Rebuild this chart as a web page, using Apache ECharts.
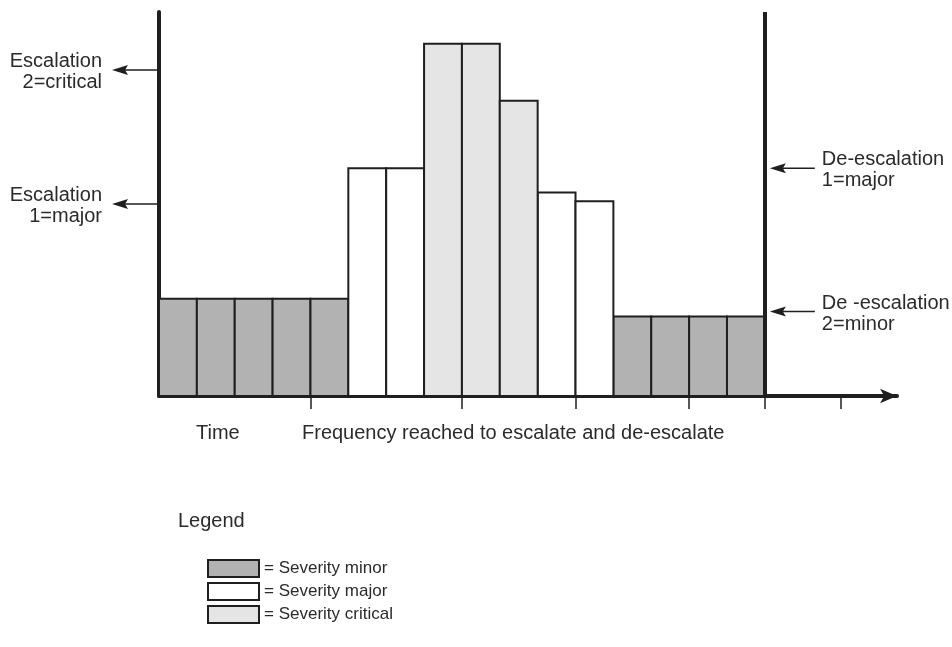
<!DOCTYPE html>
<html>
<head>
<meta charset="utf-8">
<title>Escalation and de-escalation</title>
<script src="https://cdn.jsdelivr.net/npm/echarts@6/dist/echarts.min.js"></script>
<style>
  html, body { margin: 0; padding: 0; background: #fff; }
  #chart { width: 952px; height: 647px; }
</style>
</head>
<body>
<div id="chart"></div>
<script>
// bar heights, one per time slot
const barLevels = [25.3, 25.3, 25.3, 25.3, 25.3, 59.3, 59.3, 91.7, 91.7, 76.9, 53, 50.7, 20.7, 20.7, 20.7, 20.7];
const barSeverity = ['minor', 'minor', 'minor', 'minor', 'minor', 'major', 'major', 'critical', 'critical', 'critical',
  'major', 'major', 'minor', 'minor', 'minor', 'minor'];
const severityKeys = ['minor', 'major', 'critical'];
const severityNames = ['Severity minor', 'Severity major', 'Severity critical'];
const severityColors = ['#b2b2b2', '#ffffff', '#e5e5e5'];

// ticks under the time axis
const tickPositions = [4, 8, 11, 14, 16, 18];
const deEscalationAt = 16;

// threshold arrows
const escalationLevels = [84.9, 50];
const escalationLabels = ['Escalation\n2=critical', 'Escalation\n1=major'];
const deEscalationLevels = [59.3, 22];
const deEscalationLabels = ['De-escalation\n1=major', 'De -escalation\n2=minor'];

const FONT = '20px "Liberation Sans"';
const INK = '#1f1f1f';
const TEXT = '#2b2b2b';

const chart = echarts.init(document.getElementById('chart'));

function renderBar(params, api) {
  const i = api.value(0);
  const v = api.value(1);
  const p0 = api.coord([i, 0]);
  const p1 = api.coord([i + 1, v]);
  return {
    type: 'rect',
    shape: { x: p0[0], y: p1[1], width: p1[0] - p0[0], height: p0[1] - p1[1] },
    style: { fill: api.visual('color'), stroke: INK, lineWidth: 2 }
  };
}

// side 0 = escalation (left of y axis), side 1 = de-escalation (right of the line)
const notes = escalationLevels.map((v, i) => [v, 0, escalationLabels[i]])
  .concat(deEscalationLevels.map((v, i) => [v, 1, deEscalationLabels[i]]));

function renderNote(params, api) {
  const note = notes[params.dataIndex];
  const left = note[1] === 0;
  const p = api.coord([left ? 0 : deEscalationAt, note[0]]);
  const y = p[1];
  const tip = left ? p[0] - 47 : p[0] + 5;
  const tail = left ? p[0] - 2 : p[0] + 50;
  return {
    type: 'group',
    children: [
      { type: 'line', shape: { x1: tip + 10, y1: y, x2: tail, y2: y }, style: { stroke: INK, lineWidth: 1.5 } },
      { type: 'polygon', shape: { points: [[tip, y], [tip + 16, y - 5], [tip + 13, y], [tip + 16, y + 5]] }, style: { fill: INK } },
      {
        type: 'text',
        style: {
          text: note[2],
          x: left ? tip - 10 : tail + 7,
          y: y + 2,
          align: left ? 'right' : 'left',
          verticalAlign: 'middle',
          lineHeight: 21,
          font: FONT,
          fill: TEXT
        }
      }
    ]
  };
}

const barSeries = severityKeys.map((key, k) => ({
  name: severityNames[k],
  type: 'custom',
  renderItem: renderBar,
  itemStyle: { color: severityColors[k], borderColor: INK, borderWidth: 2 },
  data: barLevels.map((v, i) => [i, v]).filter((d, i) => barSeverity[i] === key),
  encode: { x: 0, y: 1 },
  z: 2
}));

// the de-escalation line
barSeries[0].markLine = {
  silent: true,
  symbol: ['none', 'none'],
  label: { show: false },
  lineStyle: { type: 'solid', width: 4, color: INK },
  data: [{ xAxis: deEscalationAt }]
};

chart.setOption({
  animation: false,
  grid: { left: 159, right: 55, top: 12, bottom: 251 },
  xAxis: {
    type: 'value',
    min: 0,
    max: 19.49,
    splitLine: { show: false },
    axisLabel: { show: false },
    axisLine: {
      lineStyle: { color: INK, width: 4 },
      symbol: ['none', 'arrow'],
      symbolSize: [11, 17]
    },
    axisTick: {
      show: true,
      customValues: tickPositions,
      length: 13,
      lineStyle: { color: INK, width: 1.5 }
    }
  },
  yAxis: {
    type: 'value',
    min: 0,
    max: 100,
    splitLine: { show: false },
    axisLabel: { show: false },
    axisTick: { show: false },
    axisLine: { show: true, lineStyle: { color: INK, width: 4 } }
  },
  legend: {
    data: severityNames,
    orient: 'vertical',
    left: 202,
    top: 554,
    height: 80,
    icon: 'rect',
    itemWidth: 51,
    itemHeight: 17,
    itemGap: 4,
    selectedMode: false,
    itemStyle: { borderColor: INK, borderWidth: 2 },
    formatter: '= {name}',
    textStyle: { fontFamily: 'Liberation Sans', fontSize: 17, lineHeight: 17, color: TEXT }
  },
  graphic: [
    { type: 'text', x: 196, y: 433, style: { text: 'Time', font: FONT, fill: TEXT, verticalAlign: 'middle' } },
    { type: 'text', x: 302, y: 433, style: { text: 'Frequency reached to escalate and de-escalate', font: FONT, fill: TEXT, verticalAlign: 'middle' } },
    { type: 'text', x: 178, y: 521, style: { text: 'Legend', font: FONT, fill: TEXT, verticalAlign: 'middle' } }
  ],
  series: barSeries.concat([{
    type: 'custom',
    renderItem: renderNote,
    clip: false,
    silent: true,
    data: notes.map(n => [n[1] === 0 ? 0 : deEscalationAt, n[0]]),
    encode: { x: 0, y: 1 },
    z: 3
  }])
});
</script>
</body>
</html>
